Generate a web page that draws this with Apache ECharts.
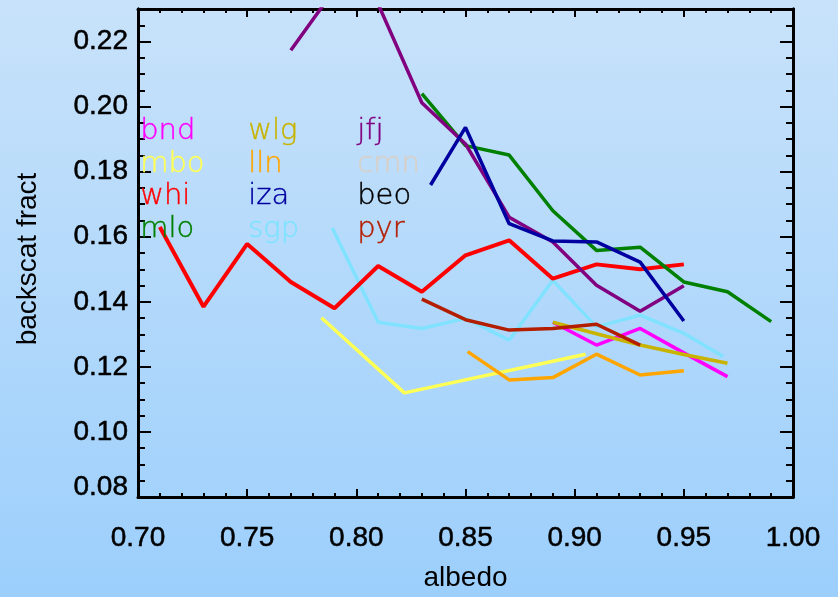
<!DOCTYPE html>
<html><head><meta charset="utf-8">
<script src="https://cdn.jsdelivr.net/npm/echarts@6/dist/echarts.min.js"></script>
<style>html,body{margin:0;padding:0;}#c{width:838px;height:597px;}</style>
</head><body><div id="c"></div>
<script>
// ---- data ----
const stationNames  = ['bnd','mbo','whi','mlo','wlg','lln','iza','sgp','jfj','cmn','beo','pyr'];
const stationColors = ['#ff00ff','#ffff55','#ff0000','#008000','#c8b400','#ffa500','#0000a0','#80e2ff','#800080','#d8d0c8','#000000','#b41e00'];

const xTickLabels = ['0.70','0.75','0.80','0.85','0.90','0.95','1.00'];
const yTickLabels = ['0.08','0.10','0.12','0.14','0.16','0.18','0.20','0.22'];

const bndX = [0.89, 0.91, 0.93, 0.95, 0.97];
const bndY = [0.1337, 0.1267, 0.1318, 0.1243, 0.1170];

const mboX = [0.784, 0.822, 0.905];
const mboY = [0.1351, 0.1120, 0.1239];

const whiX = [0.71, 0.73, 0.75, 0.77, 0.79, 0.81, 0.83, 0.85, 0.87, 0.89, 0.91, 0.93, 0.95];
const whiY = [0.1630, 0.1385, 0.1578, 0.1461, 0.1380, 0.1510, 0.1431, 0.1543, 0.1589, 0.1471, 0.1515, 0.1500, 0.1515];

const mloX = [0.83, 0.85, 0.87, 0.89, 0.91, 0.93, 0.95, 0.97, 0.99];
const mloY = [0.2040, 0.1880, 0.1851, 0.1680, 0.1558, 0.1568, 0.1461, 0.1431, 0.1339];

const wlgX = [0.89, 0.91, 0.93, 0.95, 0.97];
const wlgY = [0.1337, 0.1302, 0.1267, 0.1238, 0.1211];

const llnX = [0.851, 0.87, 0.89, 0.91, 0.93, 0.95];
const llnY = [0.1247, 0.1160, 0.1167, 0.1239, 0.1175, 0.1188];

const izaX = [0.834, 0.85, 0.87, 0.89, 0.91, 0.93, 0.95];
const izaY = [0.1759, 0.1936, 0.1640, 0.1587, 0.1584, 0.1522, 0.1341];

const sgpX = [0.789, 0.81, 0.83, 0.85, 0.87, 0.89, 0.91, 0.93, 0.95, 0.968];
const sgpY = [0.1627, 0.1337, 0.1318, 0.1349, 0.1282, 0.1466, 0.1323, 0.1359, 0.1303, 0.1232];

const jfjX = [0.77, 0.79, 0.81, 0.83, 0.85, 0.87, 0.89, 0.91, 0.93, 0.95];
const jfjY = [0.2173, 0.2360, 0.2315, 0.2012, 0.1885, 0.1660, 0.1584, 0.1451, 0.1371, 0.1449];

const cmnX = [];
const cmnY = [];

const beoX = [];
const beoY = [];

const pyrX = [0.83, 0.85, 0.87, 0.89, 0.91, 0.93];
const pyrY = [0.1408, 0.1345, 0.1313, 0.1318, 0.1331, 0.1267];

const seriesData = {
  bnd:[bndX,bndY], mbo:[mboX,mboY], whi:[whiX,whiY], mlo:[mloX,mloY],
  wlg:[wlgX,wlgY], lln:[llnX,llnY], iza:[izaX,izaY], sgp:[sgpX,sgpY],
  jfj:[jfjX,jfjY], cmn:[cmnX,cmnY], beo:[beoX,beoY], pyr:[pyrX,pyrY]
};
const drawOrder = ['cmn','beo','sgp','mbo','lln','bnd','wlg','pyr','whi','mlo','jfj','iza'];

// ---- chart ----
const chart = echarts.init(document.getElementById('c'), null, {renderer:'canvas'});
const FONT = 'Liberation Sans, Arial, Helvetica, sans-serif';
const FS = 28;

const xMin = parseFloat(xTickLabels[0]), xMax = parseFloat(xTickLabels[xTickLabels.length-1]);
const yMin = parseFloat(yTickLabels[0]), yMax = 0.23;

const labelStyle = {color:'#000', fontSize:FS, fontFamily:FONT, textBorderColor:'#000', textBorderWidth:0.5};

function xAxisDef(pos, showLabels) {
  return {
    type:'value', position:pos, min:xMin, max:xMax, interval:0.05,
    axisLine:{show:true, onZero:false, lineStyle:{color:'#000', width:3}},
    axisTick:{show:true, inside:true, length:8, lineStyle:{color:'#000', width:2}},
    minorTick:{show:true, splitNumber:5, length:4, lineStyle:{color:'#000', width:2}},
    splitLine:{show:false}, minorSplitLine:{show:false},
    axisLabel:Object.assign({show:showLabels, margin:27,
      formatter:v => { const s = v.toFixed(2); return xTickLabels.includes(s) ? s : ''; }}, labelStyle),
    name: showLabels ? 'albedo' : '', nameLocation:'middle', nameGap:67,
    nameTextStyle:{color:'#000', fontSize:FS, fontFamily:FONT}
  };
}
function yAxisDef(pos, interval, tickLen, showLabels, withName) {
  return {
    type:'value', position:pos, min:yMin, max:yMax, interval:interval,
    axisLine:{show:true, onZero:false, lineStyle:{color:'#000', width:3}},
    axisTick:{show:true, inside:true, length:tickLen, lineStyle:{color:'#000', width:2}},
    splitLine:{show:false},
    axisLabel:Object.assign({show:showLabels, showMaxLabel:false, margin:10,
      formatter:v => { const s = v.toFixed(2); if (!yTickLabels.includes(s)) return '';
        return s === yTickLabels[0] ? '{lo|' + s + '}' : s; },
      rich:{lo:Object.assign({padding:[0,0,20,0]}, labelStyle)}}, labelStyle),
    name: withName ? 'backscat fract' : '', nameLocation:'middle', nameGap:96,
    nameTextStyle:{color:'#000', fontSize:FS, fontFamily:FONT, padding:[0,12,0,0]}
  };
}

const series = drawOrder.map(n => {
  const i = stationNames.indexOf(n);
  const [xs, ys] = seriesData[n];
  return {
    name:n, type:'line', xAxisIndex:0, yAxisIndex:0,
    data: xs.map((x,k) => [x, ys[k]]),
    symbol:'none', clip:true,
    lineStyle:{color:stationColors[i], width: n==='whi' ? 4 : 3.5},
    itemStyle:{color:stationColors[i]},
    emphasis:{disabled:true}
  };
});

// legend texts (3 columns x 4 rows)
const colX = [140, 248, 357];
const rowY = [135, 168, 200, 233];
const legendTexts = stationNames.map((n,i) => ({
  type:'text', left:colX[Math.floor(i/4)], top:rowY[i%4] - 18, z:100,
  style:{text:n, fill:stationColors[i], font:'200 29px "DejaVu Sans", sans-serif',
         stroke:stationColors[i], lineWidth:0.4}
}));

chart.setOption({
  animation:false,
  backgroundColor:{type:'linear', x:0, y:0, x2:0, y2:1,
    colorStops:[{offset:0, color:'#c8e2fa'}, {offset:1, color:'#9ccffc'}]},
  grid:{left:138, right:45, top:9, bottom:98, containLabel:false},
  xAxis:[xAxisDef('bottom', true), xAxisDef('top', false)],
  yAxis:[
    yAxisDef('left', 0.02, 13, true, true),
    yAxisDef('left', 0.005, 7, false, false),
    yAxisDef('right', 0.02, 13, false, false),
    yAxisDef('right', 0.005, 7, false, false)
  ],
  series: series,
  graphic: legendTexts
});
</script>
</body></html>
